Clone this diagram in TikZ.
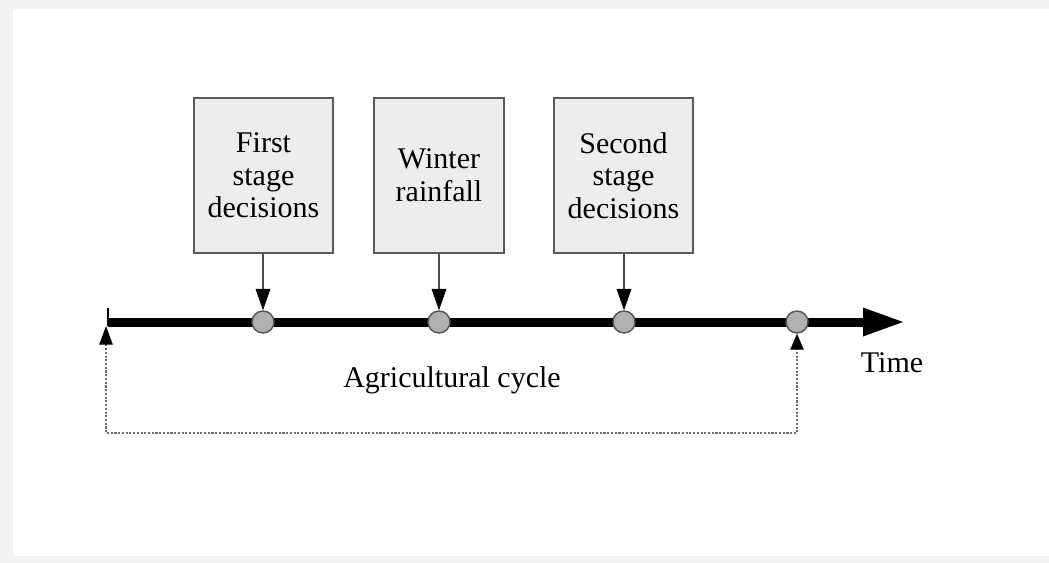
\documentclass[tikz,border=0pt]{standalone}
\usepackage{fontspec}
\setmainfont{Liberation Serif}
\usetikzlibrary{arrows.meta}
\definecolor{framegray}{HTML}{F2F2F2}
\definecolor{boxfill}{HTML}{EDEDED}
\definecolor{boxline}{HTML}{5A5A5A}
\definecolor{dotfill}{HTML}{B0B0B0}
\definecolor{dotline}{HTML}{555555}
\definecolor{loopline}{HTML}{6E6E6E}
\begin{document}
\begin{tikzpicture}[x=0.75pt,y=-0.75pt,
  event/.style={draw=boxline,fill=boxfill,line width=1.1pt,inner sep=0pt,
    minimum height=116.25pt,align=center,font=\fontsize{22.5}{24.5}\selectfont},
  mark dot/.style={circle,draw=dotline,fill=dotfill,line width=1.1pt,
    inner sep=0pt,minimum size=16.5pt},
  feed/.style={draw=black!70,line width=0.9pt,
    -{Triangle[length=16pt,width=11pt,fill=black,color=black]}},
  loop/.style={draw=loopline,line width=1pt,dash pattern=on 1.6pt off 1.2pt,
    {Triangle[length=14pt,width=10pt,fill=black,color=black]}-{Triangle[length=12pt,width=10pt,fill=black,color=black]}},
  label/.style={font=\fontsize{22.5}{24.5}\selectfont,inner sep=0pt,anchor=base}]
% framed background
\fill[framegray] (0,0) rectangle (1049,563);
\fill[white] (13,9) rectangle (1049,556);
\useasboundingbox (0,0) rectangle (1049,563);

% time axis
\coordinate (ts) at (108,322);
\coordinate (te) at (905,322);
\draw[line width=6.75pt,-{Triangle[length=31.5pt,width=19.5pt]}] (ts) -- (te);
\coordinate (tt) at (108,308);
\coordinate (tb) at (108,326);
\draw[line width=2.2pt] (tt) -- (tb);

% events on the axis
\node[mark dot] (c1) at (263,322) {};
\node[mark dot] (c2) at (439,322) {};
\node[mark dot] (c3) at (624,322) {};
\node[mark dot] (c4) at (797,322) {};

% stage boxes
\node[event,minimum width=104.25pt] (b1) at (263.5,175.5) {First\\stage\\decisions};
\node[event,minimum width=97.5pt] (b2) at (439,175.5) {Winter\\rainfall};
\node[event,minimum width=104.25pt] (b3) at (623.5,175.5) {Second\\stage\\decisions};

\draw[feed] (c1.north |- b1.south) -- (c1.north);
\draw[feed] (c2.north |- b2.south) -- (c2.north);
\draw[feed] (c3.north |- b3.south) -- (c3.north);

% cycle return path
\coordinate (ls) at (106,326);
\coordinate (lb) at (106,433);
\coordinate (rb) at (797,433);
\draw[loop] (ls) -- (lb) -- (rb) -- (c4.south);

% labels
\node[label] (time) at (892,372) {Time};
\node[label] (cycle) at (452,387) {Agricultural cycle};
\end{tikzpicture}
\end{document}
